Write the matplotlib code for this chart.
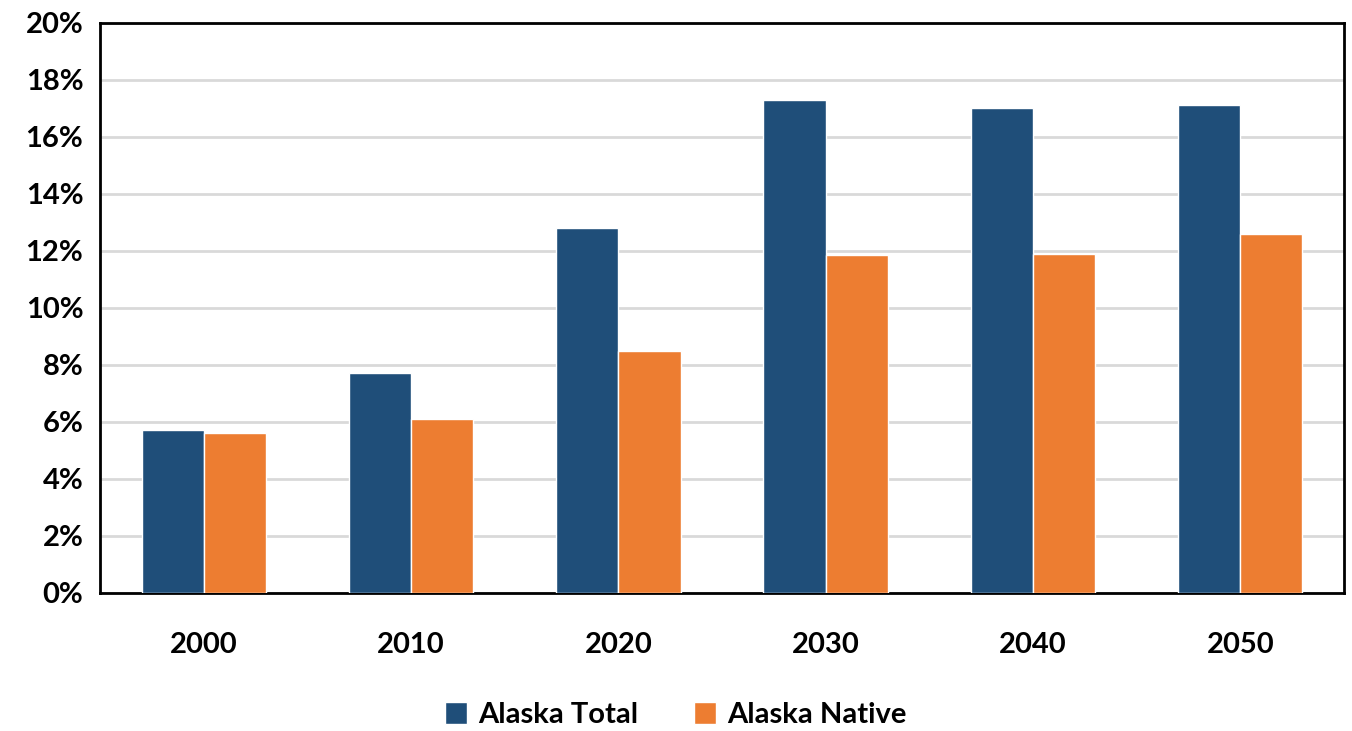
import numpy as np
import matplotlib
matplotlib.use("Agg")
import matplotlib.pyplot as plt
from matplotlib.ticker import FuncFormatter

years = ["2000", "2010", "2020", "2030", "2040", "2050"]
alaska_total = [5.7, 7.7, 12.8, 17.3, 17.0, 17.1]
alaska_native = [5.6, 6.1, 8.5, 11.85, 11.9, 12.6]

plt.rcParams['font.family'] = ['Lato', 'DejaVu Sans']
plt.rcParams['font.weight'] = 'bold'

fig = plt.figure(figsize=(13.52, 7.31), dpi=100)
ax = fig.add_axes([0.074, 0.189, 0.920, 0.780])

x = np.arange(len(years))
w = 0.30
ax.bar(x - w / 2, alaska_total, w, color="#1F4E79", edgecolor="white", linewidth=1, label="Alaska Total", zorder=3)
ax.bar(x + w / 2, alaska_native, w, color="#ED7D31", edgecolor="white", linewidth=1, label="Alaska Native", zorder=3)

ax.set_xlim(-0.5, len(years) - 0.5)
ax.set_ylim(0, 20)
ax.set_yticks(np.arange(0, 21, 2))
ax.yaxis.set_major_formatter(FuncFormatter(lambda v, p: f"{v:.0f}%"))
ax.set_xticks(x)
ax.set_xticklabels(years)
ax.tick_params(axis="both", length=0, labelsize=21)
ax.tick_params(axis="x", pad=28)
ax.tick_params(axis="y", pad=12)
ax.grid(axis="y", color="#d9d9d9", linewidth=2, zorder=0)

for s in ax.spines.values():
    s.set_linewidth(2)
    s.set_color("black")

fig.legend(loc="lower center", bbox_to_anchor=(0.5, -0.024), ncol=2, frameon=False,
           fontsize=21, handlelength=0.75, handleheight=0.75, handletextpad=0.4,
           columnspacing=1.9, borderaxespad=0.3)

fig.savefig("out.png", dpi=100)
